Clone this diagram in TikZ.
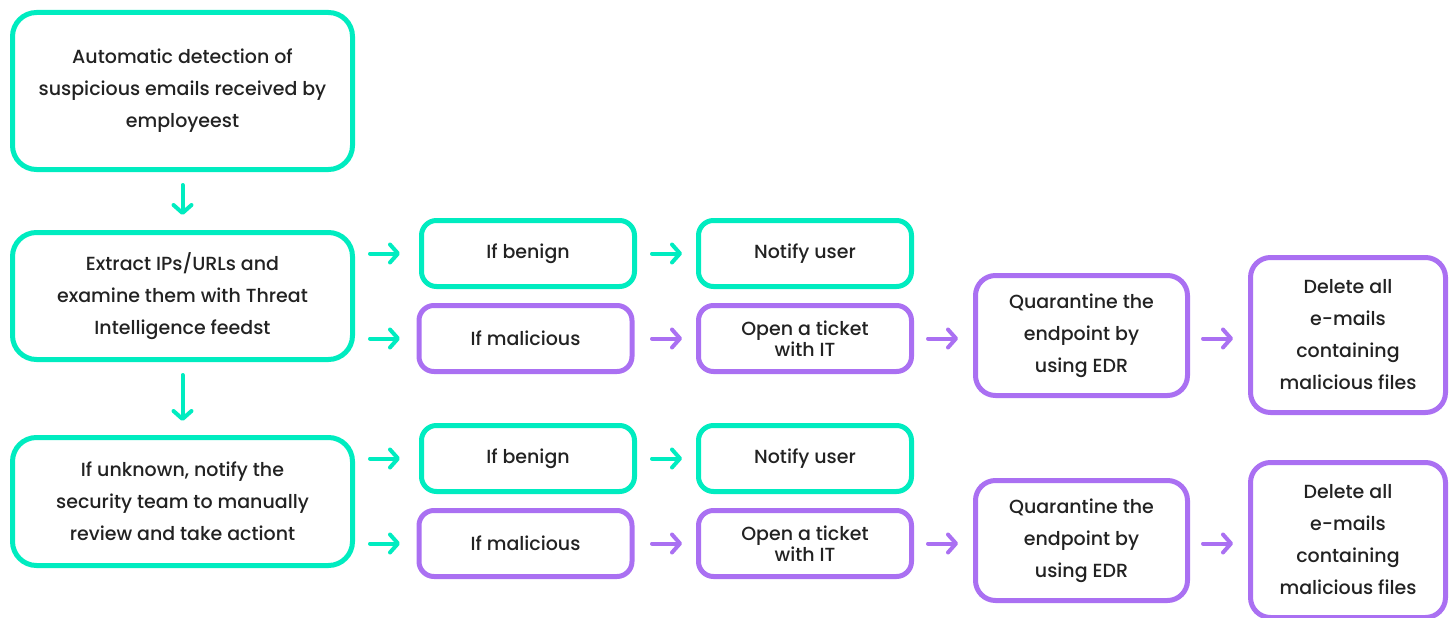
\documentclass[tikz,border=0pt]{standalone}
\usepackage{fontspec}
\setmainfont{Poppins}[UprightFont=* Medium]
\usetikzlibrary{arrows.meta,positioning}
\definecolor{mint}{RGB}{0,236,192}
\definecolor{lilac}{RGB}{170,112,242}
\definecolor{ink}{RGB}{34,34,34}

\begin{document}
\begin{tikzpicture}
		[   x=1pt,y=-1pt,
		    bnode/.style={draw=#1,line width=5pt,rounded corners=24pt,text=ink,align=center,minimum width=340pt,inner sep=0pt,font=\fontsize{19}{32}\selectfont},
		    snode/.style={draw=#1,line width=5pt,rounded corners=15pt,text=ink,align=center,minimum width=213pt,minimum height=66pt,inner sep=0pt,font=\fontsize{19}{32}\selectfont},
		]
		\tikzset{flow arrow/.style={draw=#1,line width=4pt,line cap=round,-{Straight Barb[length=8pt,width=18pt,round]}}}
		\useasboundingbox (0,0) rectangle (1452,618);
		
		\node[bnode=mint,minimum height=157pt] (detect) at (182.5,91) {Automatic detection of\\suspicious emails received by\\employeest};
		\node[bnode=mint,minimum height=127pt] (extract) at (182.5,296) {Extract IPs/URLs and\\examine them with Threat\\Intelligence feedst};
		\node[bnode=mint,minimum height=128pt] (unknown) at (182.5,501.5) {If unknown, notify the\\security team to manually\\review and take actiont};
		
		\path[flow arrow=mint,shorten <=13pt,shorten >=15pt] (detect) -- (extract);
		\path[flow arrow=mint,shorten <=13pt,shorten >=14pt] (extract) -- (unknown);
		
		% one row per source box
		\foreach \r/\dy/\src in {1/0/extract,2/205/unknown}
		{
			\node[snode=mint] (benign-\r) at (528,253.5+\dy) {If benign};
			\node[snode=lilac] (malic-\r) at (525.5,338.5+\dy) {If malicious};
			\node[snode=mint] (notify-\r) at (805,253.5+\dy) {Notify user};
			\node[snode=lilac,font=\fontsize{19}{17}\selectfont] (ticket-\r) at (805,338.5+\dy) {Open a ticket\\with IT};
			\node[snode=lilac,minimum width=212pt,minimum height=120pt,rounded corners=20pt] (quar-\r) at (1081.5,335.5+\dy) {Quarantine the\\endpoint by\\using EDR};
			\node[snode=lilac,minimum width=195pt,minimum height=155pt,rounded corners=20pt] (del-\r) at (1348,335+\dy) {Delete all\\e-mails\\containing\\malicious files};
			
			\path[flow arrow=mint,shorten <=15pt,shorten >=19pt] (\src.east |- benign-\r.west) -- (benign-\r.west);
			\path[flow arrow=mint,shorten <=15pt,shorten >=16.5pt] (\src.east |- malic-\r.west) -- (malic-\r.west);
			\path[flow arrow=mint,shorten <=15pt,shorten >=14pt] (benign-\r) -- (notify-\r);
			\path[flow arrow=lilac,shorten <=17.5pt,shorten >=14pt] (malic-\r) -- (ticket-\r);
			\path[flow arrow=lilac,shorten <=14pt,shorten >=15pt] (ticket-\r.east) -- (ticket-\r.east -| quar-\r.west);
			\path[flow arrow=lilac,shorten <=13pt,shorten >=15pt] (quar-\r.east |- ticket-\r.east) -- (ticket-\r.east -| del-\r.west);
		}
\end{tikzpicture}
\end{document}
